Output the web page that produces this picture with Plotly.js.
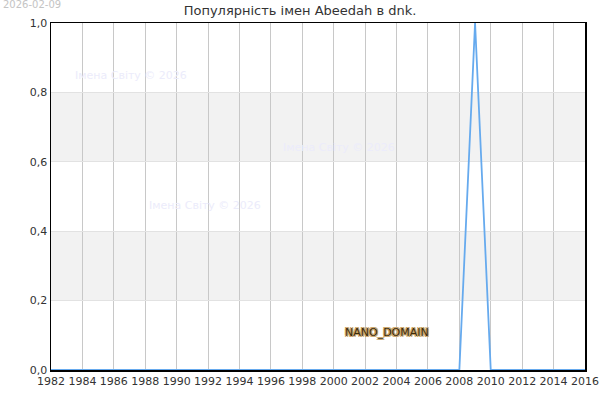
<!DOCTYPE html>
<html>
<head>
<meta charset="utf-8">
<script src="https://cdn.plot.ly/plotly-3.0.1.min.js"></script>
<style>
  html, body { margin: 0; padding: 0; background: #fff; }
  #chart { width: 600px; height: 400px; }
</style>
</head>
<body>
<div id="chart"></div>
<script>
// popularity by year, 0 everywhere except 2009
var years = [];
for (var y = 1982; y <= 2016; y++) years.push(y);
var popularity = [0,0,0,0,0,0,0,0,0,0, 0,0,0,0,0,0,0,0,0,0, 0,0,0,0,0,0,0,1,0,0, 0,0,0,0,0];

var xTicks = [1982,1984,1986,1988,1990,1992,1994,1996,1998,2000,2002,2004,2006,2008,2010,2012,2014,2016];
var yTicks = [0,0.2,0.4,0.6,0.8,1.0];
var bands = [[0.2,0.4],[0.6,0.8]];

var chartTitle = 'Популярність імен Abeedah в dnk.';
var stamp = '2026-02-09';
var watermark = 'Імена Світу © 2026';

var trace1 = {
	x: years,
	y: popularity,
	mode: 'lines',
	line: {color: '#66aaee', width: 1.8},
	hoverinfo: 'none'
};

var shapes = [];
bands.forEach(function(b){
	shapes.push({type: 'rect', xref: 'paper', yref: 'y', x0: 0, x1: 1, y0: b[0], y1: b[1],
		fillcolor: '#f2f2f2', line: {width: 0}, layer: 'below'});
});

var wmFont = {family: 'DejaVu Sans', size: 11, color: '#ececfb'};

var layout = {
	width: 600,
	height: 400,
	margin: {l: 51, r: 15, t: 23, b: 30},
	paper_bgcolor: '#fff',
	plot_bgcolor: 'rgba(0,0,0,0)',
	separators: ',.',
	showlegend: false,
	font: {family: 'DejaVu Sans', size: 11, color: '#333'},
	title: {text: chartTitle, x: 0.5, xanchor: 'center', y: 0.975, yanchor: 'middle',
		font: {family: 'DejaVu Sans', size: 13, color: '#333'}},
	xaxis: {
		range: [1982, 2016],
		tickmode: 'array',
		tickvals: xTicks,
		ticktext: xTicks.map(String),
		showgrid: true,
		gridcolor: '#c8c8c8',
		gridwidth: 1,
		zeroline: false,
		showline: true,
		linecolor: '#000',
		linewidth: 1.5,
		mirror: true,
		ticks: '',
		tickfont: {size: 11, color: '#333'}
	},
	yaxis: {
		range: [0, 1],
		tickmode: 'array',
		tickvals: yTicks,
		tickformat: '.1f',
		showgrid: true,
		gridcolor: '#e2e2e2',
		zeroline: false,
		showline: true,
		linecolor: '#000',
		linewidth: 1.5,
		mirror: true,
		ticks: '',
		tickfont: {size: 11, color: '#333'}
	},
	shapes: shapes,
	annotations: [
		{text: stamp, xref: 'paper', yref: 'paper', x: -0.094, y: 1.052, xanchor: 'left', yanchor: 'middle',
			showarrow: false, font: {family: 'DejaVu Sans', size: 10, color: '#c4c4c4'}},
		{text: watermark, xref: 'paper', yref: 'paper', x: 0.042, y: 0.85, xanchor: 'left', yanchor: 'middle',
			showarrow: false, font: wmFont},
		{text: watermark, xref: 'paper', yref: 'paper', x: 0.43, y: 0.64, xanchor: 'left', yanchor: 'middle',
			showarrow: false, font: wmFont},
		{text: watermark, xref: 'paper', yref: 'paper', x: 0.18, y: 0.475, xanchor: 'left', yanchor: 'middle',
			showarrow: false, font: wmFont},
		{text: 'NANO_DOMAIN', xref: 'x', yref: 'y', x: 2003.4, y: 0.107, xanchor: 'center', yanchor: 'middle',
			showarrow: false,
			font: {family: 'DejaVu Sans', size: 11, color: '#3a2a0c',
				shadow: '-1px -1px 0 #c9a468, 1px -1px 0 #c9a468, -1px 1px 0 #c9a468, 1px 1px 0 #c9a468'}}
	]
};

Plotly.newPlot('chart', [trace1], layout, {staticPlot: true, displayModeBar: false});
</script>
</body>
</html>
